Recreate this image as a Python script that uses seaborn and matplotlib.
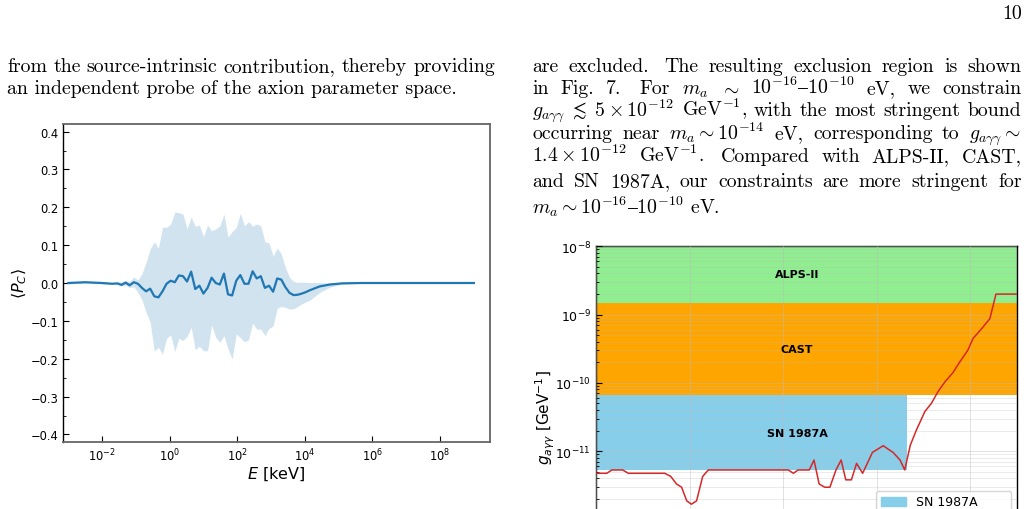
import re
import numpy as np
import matplotlib
matplotlib.use("Agg")
import matplotlib.pyplot as plt
import seaborn as sns
from matplotlib.transforms import IdentityTransform
from matplotlib.ticker import FixedLocator, NullLocator, MultipleLocator, LogLocator, NullFormatter
from matplotlib.patches import Patch
from matplotlib.lines import Line2D

# ---------------- data: left panel  <P_C>(E) ----------------
logE = [-3.0, -2.5, -2.0, -1.7, -1.545, -1.424, -1.303, -1.182, -1.061, -0.939,
        -0.818, -0.697, -0.576, -0.455, -0.333, -0.212, -0.091, 0.030, 0.152, 0.273,
        0.394, 0.515, 0.636, 0.758, 0.879, 1.0, 1.121, 1.242, 1.364, 1.485,
        1.606, 1.727, 1.848, 1.970, 2.091, 2.212, 2.333, 2.455, 2.576, 2.697,
        2.818, 2.939, 3.061, 3.182, 3.303, 3.424, 3.545, 3.667, 3.788, 3.909,
        4.030, 4.15, 4.44, 4.74, 5.1, 5.7, 7.0, 9.0]
pc_mean = [0.0, 0.002, 0.0, -0.002, -0.001, -0.005, 0.001, -0.006, 0.002, -0.002,
           -0.013, -0.022, -0.015, -0.035, -0.038, -0.022, -0.002, 0.006, 0.002, 0.020,
           0.018, 0.004, 0.030, -0.016, -0.007, -0.028, -0.013, 0.014, 0.0, -0.004,
           0.025, -0.030, -0.033, 0.006, 0.021, -0.002, -0.002, 0.031, 0.012, 0.018,
           -0.013, -0.007, -0.023, 0.012, 0.009, -0.011, -0.026, -0.032, -0.031, -0.028,
           -0.024, -0.019, -0.009, -0.004, -0.001, 0.0, 0.0, 0.0]
pc_hi = [0.002, 0.004, 0.002, 0.0, 0.002, 0.003, 0.006, 0.004, 0.016, 0.008,
         0.025, 0.055, 0.090, 0.109, 0.092, 0.147, 0.147, 0.156, 0.187, 0.186,
         0.182, 0.143, 0.174, 0.150, 0.153, 0.123, 0.153, 0.138, 0.143, 0.151,
         0.182, 0.121, 0.136, 0.147, 0.184, 0.151, 0.162, 0.150, 0.156, 0.151,
         0.109, 0.106, 0.071, 0.092, 0.077, 0.041, 0.015, 0.004, 0.002, 0.002,
         0.002, 0.001, 0.001, 0.0, 0.0, 0.0, 0.0, 0.0]
pc_lo = [-0.002, 0.0, -0.002, -0.004, -0.004, -0.008, -0.006, -0.012, -0.010, -0.025,
         -0.045, -0.077, -0.104, -0.180, -0.170, -0.188, -0.146, -0.137, -0.181, -0.146,
         -0.152, -0.141, -0.117, -0.176, -0.167, -0.179, -0.179, -0.111, -0.144, -0.157,
         -0.139, -0.174, -0.201, -0.135, -0.144, -0.155, -0.150, -0.106, -0.122, -0.122,
         -0.139, -0.120, -0.113, -0.067, -0.062, -0.064, -0.069, -0.068, -0.062, -0.055,
         -0.050, -0.045, -0.025, -0.011, -0.003, 0.0, 0.0, 0.0]
E_ticks = [1e-2, 1e0, 1e2, 1e4, 1e6, 1e8]

# ---------------- data: right panel  exclusion plot ----------------
log_ma = [-16.0, -15.77, -15.66, -15.43, -15.31, -14.53, -14.40, -14.28, -14.17, -14.06,
          -13.96, -13.85, -13.72, -13.60, -11.89, -11.78, -11.68, -11.44, -11.34, -11.23,
          -11.11, -11.0, -10.87, -10.76, -10.66, -10.54, -10.43, -10.30, -10.09, -9.86,
          -9.65, -9.50, -9.40, -9.28, -9.15, -8.97, -8.83, -8.69, -8.54, -8.37,
          -8.22, -8.05, -7.94, -7.76, -7.58, -7.45, -7.0]
g_limit_e12 = [4.74, 4.74, 5.30, 5.30, 4.74, 4.74, 4.25, 3.31, 2.96, 1.87,
               1.67, 1.87, 4.25, 5.30, 5.30, 4.74, 5.30, 5.30, 7.41, 3.31,
               2.96, 2.96, 5.30, 7.41, 3.80, 3.80, 6.61, 4.74, 9.59, 12.0,
               9.59, 7.41, 5.30, 12.3, 20.4, 38.0, 50.1, 74.1, 103.5, 141.0,
               204.0, 302.0, 447.0, 617.0, 871.0, 1995.0, 1995.0]
g_top = 1e-8
alps_lo = 1.5e-9
cast_lo = 6.6e-11
sn_lo = 5.3e-12
sn_mmax = 4.4e-10
band_names = ["ALPS-II", "CAST", "SN 1987A"]
band_colors = ["lightgreen", "orange", "skyblue"]
limit_label = "Our constraint"

# ---------------- page text ----------------
left_lines = ["from the source-intrinsic contribution, thereby providing",
              "an independent probe of the axion parameter space."]
right_lines = [r"are excluded.  The resulting exclusion region is shown",
               r"in Fig. 7.  For $m_a$ $\sim$ $10^{-16}–10^{-10}$ eV, we constrain",
               r"$g_{a\gamma\gamma}\;\lesssim\;5\times10^{-12}$ GeV$^{-1}$, with the most stringent bound",
               r"occurring near $m_a\sim10^{-14}$ eV, corresponding to $g_{a\gamma\gamma}\sim$",
               r"$1.4\times10^{-12}$ GeV$^{-1}$.  Compared with ALPS-II, CAST,",
               r"and SN 1987A, our constraints are more stringent for",
               r"$m_a\sim10^{-16}–10^{-10}$ eV."]
page_number = "10"

# ---------------- figure ----------------
W, H = 1028, 510
fig = plt.figure(figsize=(W / 100, H / 100), dpi=100)
fig.patch.set_facecolor("white")


def rect(l, t, r, b):
    return [l / W, 1 - b / H, (r - l) / W, (b - t) / H]


TXT_FAM = ["cmr10", "DejaVu Serif"]


def make_text(s, x, y, fs):
    return fig.text(x, H - y, s, fontsize=fs, family=TXT_FAM, math_fontfamily="cm",
                    transform=IdentityTransform(), ha="left", va="baseline", color="black")


renderer = fig.canvas.get_renderer()
probe = make_text(left_lines[1], 0, 0, 10)
w10 = probe.get_window_extent(renderer).width
probe.remove()
FS = 10 * 452.0 / w10


def justified(line, x0, x1, y, fs):
    parts = re.split(r"( +)", line)
    words = parts[0::2]
    seps = parts[1::2]
    weights = [1.0 if len(s) == 1 else 1.5 for s in seps]
    ts = [make_text(w, 0, y, fs) for w in words]
    widths = [t.get_window_extent(renderer).width for t in ts]
    gap = (x1 - x0 - sum(widths)) / sum(weights)
    x = x0
    for i, t in enumerate(ts):
        t.set_x(x)
        x += widths[i] + (gap * weights[i] if i < len(weights) else 0)


justified(left_lines[0], 7, 495, 72.5, FS)
make_text(left_lines[1], 7, 94.5, FS)
r_base = [72.5, 94.5, 116.5, 139.5, 162.5, 187.5, 213.5]
for i, ln in enumerate(right_lines):
    if i < len(right_lines) - 1:
        justified(ln, 532.5, 1021.5, r_base[i], FS)
    else:
        make_text(ln, 532.5, r_base[i], FS)
pn = make_text(page_number, 0, 19.5, FS)
pn.set_ha("right")
pn.set_x(1021.5)

# ---------------- left panel ----------------
ax1 = fig.add_axes(rect(63, 125, 490, 443))
E = 10 ** np.array(logE)
ax1.set_xscale("log")
ax1.fill_between(E, pc_lo, pc_hi, color="#1f77b4", alpha=0.2, lw=0)
sns.lineplot(x=E, y=pc_mean, ax=ax1, color="#1f77b4", lw=1.6)
ax1.set_xlim(7e-4, 3e9)
ax1.set_ylim(-0.42, 0.42)
ax1.xaxis.set_major_locator(FixedLocator(E_ticks))
ax1.xaxis.set_minor_locator(NullLocator())
ax1.yaxis.set_major_locator(MultipleLocator(0.1))
ax1.yaxis.set_minor_locator(MultipleLocator(0.05))
ax1.tick_params(which="both", direction="in", labelsize=8.3, colors="black")
ax1.tick_params(which="major", length=4)
ax1.tick_params(which="minor", length=2)
ax1.set_xlabel(r"$E$ [keV]", fontsize=11.5, labelpad=1)
ax1.set_ylabel(r"$\langle P_C\rangle$", fontsize=11.5, labelpad=1)
for side in ["top", "right", "bottom"]:
    ax1.spines[side].set_color("#666666")
    ax1.spines[side].set_linewidth(1.3)
ax1.spines["left"].set_color("black")
ax1.spines["left"].set_linewidth(1.0)

# ---------------- right panel ----------------
ax2 = fig.add_axes(rect(596, 247.3, 1017, 588.7))
ax2.set_xscale("log")
ax2.set_yscale("log")
ma = 10 ** np.array(log_ma)
g = np.array(g_limit_e12) * 1e-12
ax2.axhspan(alps_lo, g_top, color=band_colors[0], lw=0, zorder=1)
ax2.axhspan(cast_lo, alps_lo, color=band_colors[1], lw=0, zorder=1)
ax2.fill_between([1e-16, sn_mmax], sn_lo, cast_lo, color=band_colors[2], lw=0, zorder=1)
sns.lineplot(x=ma, y=g, ax=ax2, color="#d62728", lw=1.1, zorder=3)
ax2.set_xlim(1e-16, 1e-7)
ax2.set_ylim(1e-13, 1e-8)
ax2.xaxis.set_major_locator(FixedLocator([1e-16, 1e-14, 1e-12, 1e-10, 1e-8]))
ax2.xaxis.set_minor_locator(NullLocator())
ax2.xaxis.set_major_formatter(NullFormatter())
ax2.yaxis.set_major_locator(LogLocator(base=10, numticks=10))
ax2.yaxis.set_minor_locator(LogLocator(base=10, subs=np.arange(2, 10), numticks=20))
ax2.set_axisbelow(False)
ax2.grid(True, which="major", color="#bbbbbb", alpha=0.45, lw=0.7, zorder=2.5)
ax2.grid(True, which="minor", axis="y", color="#bbbbbb", alpha=0.35, lw=0.6)
ax2.tick_params(which="both", direction="in", labelsize=9, colors="black")
ax2.tick_params(which="major", length=4)
ax2.tick_params(which="minor", length=2)
ax2.set_ylabel(r"$g_{a\gamma\gamma}$ [GeV$^{-1}$]", fontsize=11, labelpad=-1.5)
xc = 10 ** -11.7
for name, lo, hi in [("ALPS-II", alps_lo, g_top), ("CAST", cast_lo, alps_lo), ("SN 1987A", sn_lo, cast_lo)]:
    ax2.text(xc, np.sqrt(lo * hi), name, ha="center", va="center", fontsize=8,
             fontweight="bold", zorder=4)
for s in ax2.spines.values():
    s.set_color("black")
    s.set_linewidth(1.0)
handles = [Patch(color=band_colors[2], label=band_names[2]),
           Patch(color=band_colors[1], label=band_names[1]),
           Patch(color=band_colors[0], label=band_names[0]),
           Line2D([], [], color="#d62728", lw=1.1, label=limit_label)]
ax2.legend(handles=handles, loc="upper right", fontsize=9,
           bbox_to_anchor=(1011 / W, 1 - 491.5 / H), bbox_transform=fig.transFigure,
           borderaxespad=0)

fig.savefig("out.png", dpi=100)
